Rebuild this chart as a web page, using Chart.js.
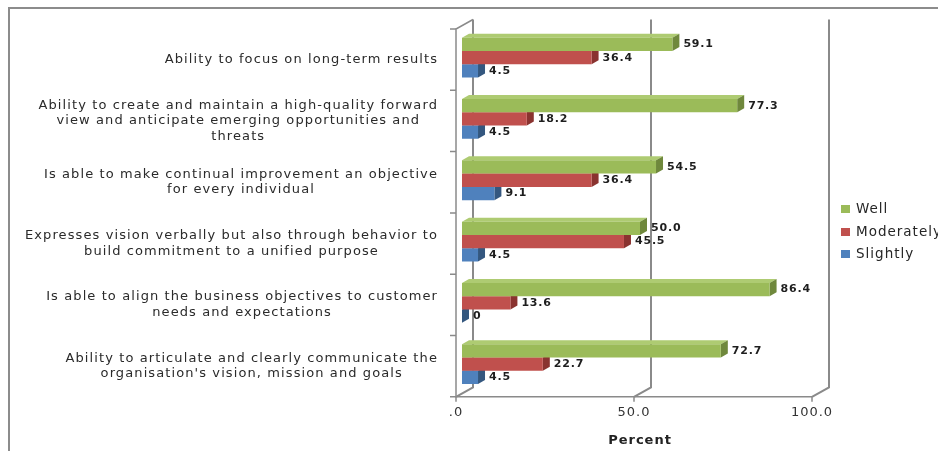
<!DOCTYPE html>
<html>
<head>
<meta charset="utf-8">
<script src="https://cdn.jsdelivr.net/npm/chart.js@4"></script>
<style>
  html, body { margin: 0; padding: 0; background: #fff; }
  #wrap { width: 938px; height: 451px; }
</style>
</head>
<body>
<div id="wrap"><canvas id="leaderChart"></canvas></div>
<script>
// categories, one array of lines each (top to bottom)
const categories = [
    ["Ability to focus on long-term results"],
    ["Ability to create and maintain a high-quality forward", "view and anticipate emerging opportunities and", "threats"],
    ["Is able to make continual improvement an objective", "for every individual"],
    ["Expresses vision verbally but also through behavior to", "build commitment to a unified purpose"],
    ["Is able to align the business objectives to customer", "needs and expectations"],
    ["Ability to articulate and clearly communicate the", "organisation's vision, mission and goals"]
];
const well = [59.1, 77.3, 54.5, 50.0, 86.4, 72.7];
const moderately = [36.4, 18.2, 36.4, 45.5, 13.6, 22.7];
const slightly = [4.5, 4.5, 9.1, 4.5, 0, 4.5];
const xTicks = [0, 50, 100];

// fake 3d offsets
const FRONT = { dx: -6, dy: 2 };    // front frame relative to bar plane
const WALL = { dx: 11, dy: -7.5 };  // back wall relative to bar plane
const DEPTH = { dx: 7, dy: 4 };     // bar thickness

const shades = [
    { front: "#9BBB59", top: "#AECB72", side: "#6F883C" },
    { front: "#C0504D", top: "#CF6D6A", side: "#8A3330" },
    { front: "#4F81BD", top: "#6C97CB", side: "#34577F" }
];

const lineColor = "#8a8a8a";

function fmt(v) {
    return v === 0 ? "0" : v.toFixed(1);
}

const frame3d = {
    id: "frame3d",
    beforeDraw(chart) {
        const ctx = chart.ctx;
        ctx.save();
        ctx.fillStyle = "#fff";
        ctx.fillRect(0, 0, chart.width, chart.height);
        // outer border
        ctx.strokeStyle = "#8c8c8c";
        ctx.lineWidth = 2;
        ctx.beginPath();
        ctx.moveTo(9, chart.height);
        ctx.lineTo(9, 8);
        ctx.lineTo(chart.width, 8);
        ctx.stroke();
        ctx.restore();
        // the axis text is spaced out a little
        ctx.letterSpacing = "1px";
    },
    beforeDatasetsDraw(chart) {
        const ctx = chart.ctx;
        const area = chart.chartArea;
        const xs = chart.scales.x;
        const ys = chart.scales.y;
        const n = categories.length;
        const band = (area.bottom - area.top) / n;

        ctx.save();
        ctx.strokeStyle = lineColor;
        ctx.lineWidth = 2;

        // back wall verticals + floor diagonals
        xTicks.forEach((v) => {
            const px = xs.getPixelForValue(v);
            const bx = px + WALL.dx;
            const fx = px + FRONT.dx;
            ctx.beginPath();
            ctx.moveTo(bx, area.top + WALL.dy);
            ctx.lineTo(bx, area.bottom + WALL.dy);
            ctx.lineTo(fx, area.bottom + FRONT.dy);
            ctx.stroke();
        });

        // front axes
        const left = xs.getPixelForValue(0) + FRONT.dx;
        const right = xs.getPixelForValue(100) + FRONT.dx;
        const top = area.top + FRONT.dy;
        const bottom = area.bottom + FRONT.dy;
        ctx.lineWidth = 1.5;
        ctx.beginPath();
        ctx.moveTo(xs.getPixelForValue(0) + WALL.dx, area.top + WALL.dy);
        ctx.lineTo(left, top);
        ctx.lineTo(left, bottom);
        ctx.lineTo(right, bottom);
        ctx.stroke();

        // tick marks
        ctx.beginPath();
        for (let i = 0; i <= n; i++) {
            const y = top + i * band;
            ctx.moveTo(left - 6, y);
            ctx.lineTo(left, y);
        }
        xTicks.forEach((v) => {
            const fx = xs.getPixelForValue(v) + FRONT.dx;
            ctx.moveTo(fx, bottom);
            ctx.lineTo(fx, bottom + 5);
        });
        ctx.stroke();

        // category labels, lines centred, block right aligned
        ctx.font = "13px 'DejaVu Sans'";
        ctx.letterSpacing = "1.1px";
        ctx.fillStyle = "#2a2a2a";
        ctx.textBaseline = "middle";
        ctx.textAlign = "center";
        const lh = 15.5;
        categories.forEach((lines, i) => {
            const cy = ys.getPixelForTick(i) + FRONT.dy;
            const w = Math.max(...lines.map((l) => ctx.measureText(l).width));
            const cx = 438 - w / 2;
            lines.forEach((l, k) => {
                ctx.fillText(l, cx, cy + (k - (lines.length - 1) / 2) * lh);
            });
        });

        // bar top and side faces, drawn first so front faces cover them
        chart.data.datasets.forEach((ds, di) => {
            const meta = chart.getDatasetMeta(di);
            const sh = shades[di];
            meta.data.forEach((bar) => {
                const p = bar.getProps(["x", "y", "base", "height"], true);
                const y0 = p.y - p.height / 2;
                const y1 = p.y + p.height / 2;
                ctx.fillStyle = sh.top;
                ctx.beginPath();
                ctx.moveTo(p.base, y0);
                ctx.lineTo(p.base + DEPTH.dx, y0 - DEPTH.dy);
                ctx.lineTo(p.x + DEPTH.dx, y0 - DEPTH.dy);
                ctx.lineTo(p.x, y0);
                ctx.closePath();
                ctx.fill();
                ctx.fillStyle = sh.side;
                ctx.beginPath();
                ctx.moveTo(p.x, y0);
                ctx.lineTo(p.x + DEPTH.dx, y0 - DEPTH.dy);
                ctx.lineTo(p.x + DEPTH.dx, y1 - DEPTH.dy);
                ctx.lineTo(p.x, y1);
                ctx.closePath();
                ctx.fill();
            });
        });
        ctx.restore();
    },
    afterDatasetsDraw(chart) {
        const ctx = chart.ctx;
        ctx.save();
        // value labels
        ctx.font = "bold 11px 'DejaVu Sans'";
        ctx.letterSpacing = "0.8px";
        ctx.fillStyle = "#1e1e1e";
        ctx.textBaseline = "middle";
        ctx.textAlign = "left";
        chart.data.datasets.forEach((ds, di) => {
            const meta = chart.getDatasetMeta(di);
            meta.data.forEach((bar, i) => {
                const p = bar.getProps(["x", "y"], true);
                ctx.fillText(fmt(ds.data[i]), p.x + DEPTH.dx + 4, p.y);
            });
        });

        // legend
        ctx.font = "13.5px 'DejaVu Sans'";
        ctx.letterSpacing = "1px";
        const rows = [209, 232, 254];
        chart.data.datasets.forEach((ds, di) => {
            ctx.fillStyle = ds.backgroundColor;
            ctx.fillRect(841, rows[di] - 4, 9, 8);
            ctx.fillStyle = "#262626";
            ctx.fillText(ds.label, 856, rows[di]);
        });
        ctx.restore();
    },
    afterDraw(chart) {
        chart.ctx.letterSpacing = "0px";
    }
};

new Chart(document.getElementById("leaderChart"), {
    type: "bar",
    data: {
        labels: categories,
        datasets: [
            { label: "Well", data: well, backgroundColor: shades[0].front },
            { label: "Moderately", data: moderately, backgroundColor: shades[1].front },
            { label: "Slightly", data: slightly, backgroundColor: shades[2].front }
        ]
    },
    options: {
        indexAxis: "y",
        responsive: true,
        maintainAspectRatio: false,
        animation: false,
        datasets: {
            bar: {
                categoryPercentage: 0.65,
                barPercentage: 1,
                borderWidth: 0
            }
        },
        layout: {
            padding: { left: 462, right: 120, top: 27, bottom: 0 }
        },
        plugins: {
            legend: { display: false },
            tooltip: { enabled: false }
        },
        scales: {
            y: {
                display: false
            },
            x: {
                min: 0,
                max: 100,
                afterBuildTicks: (axis) => {
                    axis.ticks = xTicks.map((v) => ({ value: v }));
                },
                grid: { display: false, drawTicks: false },
                border: { display: false },
                ticks: {
                    padding: 10,
                    labelOffset: -6,
                    color: "#333",
                    font: { family: "'DejaVu Sans'", size: 13 },
                    callback: (v) => (v === 0 ? ".0" : v.toFixed(1))
                },
                title: {
                    display: true,
                    text: "Percent",
                    color: "#222",
                    padding: { top: 2, bottom: 3 },
                    font: { family: "'DejaVu Sans'", size: 13, weight: "bold" }
                }
            }
        }
    },
    plugins: [frame3d]
});
</script>
</body>
</html>
